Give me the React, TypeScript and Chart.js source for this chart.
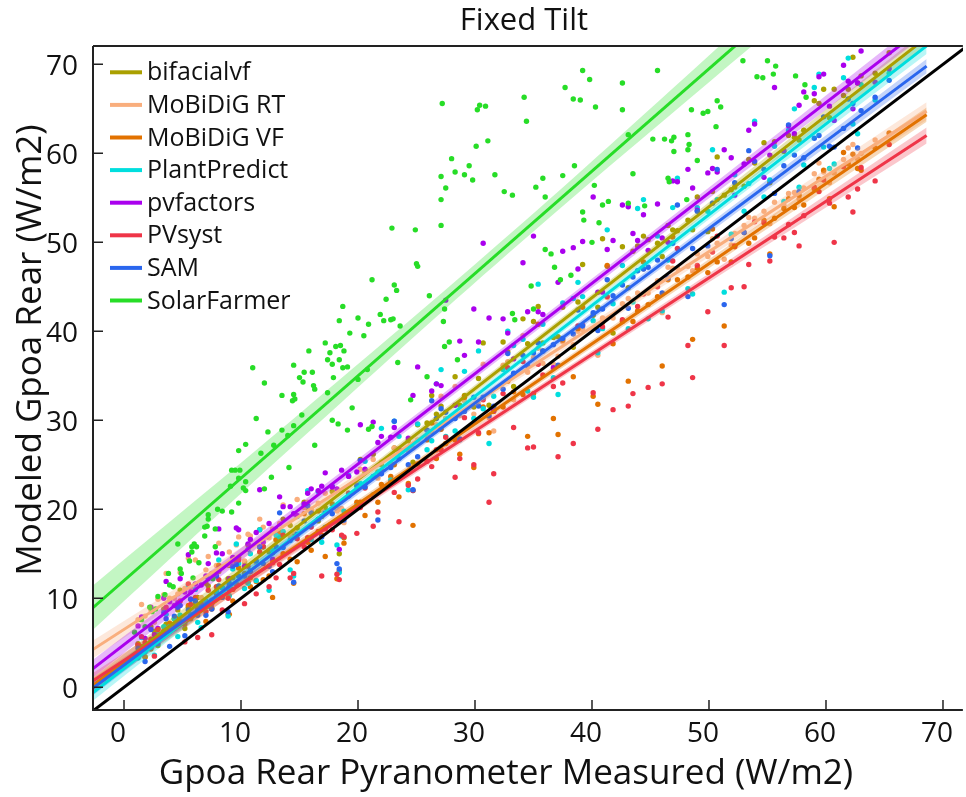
import React, { useEffect, useRef } from 'react';
import { Chart, registerables } from 'chart.js';

Chart.register(...registerables);

const FONT = '"Open Sans", "Noto Sans", "DejaVu Sans", sans-serif';

// Model names, colours and regression fits
const models = ['bifacialvf', 'MoBiDiG RT', 'MoBiDiG VF', 'PlantPredict', 'pvfactors', 'PVsyst', 'SAM', 'SolarFarmer'];
const modelColors = ['#aaa000', '#f9ae7d', '#e27200', '#00dede', '#aa00ee', '#ef3548', '#2a66ee', '#27dd27'];
const fitIntercept = [2.9, 6.5, 2.6, 2.1, 4.8, 3.0, 2.5, 12.0];
const fitSlope = [1.022, 0.849, 0.9, 1.02, 1.015, 0.86, 0.981, 1.15];
const fitRange = [-2.7, 68.6];

// Confidence band half-widths (W/m2) at bandX for each model
const bandX = [-2.7, 15, 33, 50, 68.6];
const bandHalfWidth = [
  [0.9, 0.5, 0.4, 0.5, 0.9],
  [1.0, 0.6, 0.5, 0.6, 1.0],
  [0.8, 0.5, 0.4, 0.5, 0.8],
  [0.9, 0.5, 0.4, 0.5, 0.9],
  [1.0, 0.6, 0.5, 0.6, 1.0],
  [0.9, 0.5, 0.4, 0.5, 0.9],
  [0.8, 0.5, 0.4, 0.5, 0.8],
  [2.5, 1.5, 1.0, 1.5, 2.5],
];

const xTicks = [0, 10, 20, 30, 40, 50, 60, 70];
const yTicks = [0, 10, 20, 30, 40, 50, 60, 70];
const X_MIN = -2.65;
const X_MAX = 71.7;
const Y_MIN = -2.55;
const Y_MAX = 72.06;

// Measured rear irradiance (shared by the first seven models), first period
const measured = [
  1.2, 1.8, 2.3, 2.9, 3.4, 3.9, 4.3, 4.8, 5.2, 5.7,
  6.1, 6.6, 7.0, 7.5, 7.9, 8.4, 8.9, 9.3, 9.8, 10.3,
  10.8, 11.3, 11.9, 12.4, 13.0, 13.6, 14.2, 14.8, 15.4, 16.0,
  16.6, 17.2, 17.8, 18.4, 18.6, 19.2, 19.9, 20.6, 21.3, 22.0,
  22.8, 23.5, 24.3, 25.1, 25.9, 26.7, 27.5, 28.3, 29.1, 29.9,
  30.7, 31.6, 32.4, 33.3, 34.1, 35.0, 35.8, 36.7, 37.5, 38.4,
  39.2, 40.1, 40.9, 41.8, 42.6, 43.5, 43.9, 44.8, 45.6, 46.5,
  47.3, 48.2, 49.0, 49.9, 50.7, 51.3, 52.2, 53.0, 53.9, 54.7,
  55.6, 56.4, 57.3, 58.1, 59.0, 59.8, 60.7, 61.5, 62.3, 63.0,
  64.2, 65.4,
];

// Measured rear irradiance, second period
const measured2 = [
  1.5, 2.6, 3.6, 4.6, 5.5, 6.3, 7.2, 8.1, 9.0, 9.6,
  10.6, 11.6, 12.7, 13.3, 14.5, 15.7, 16.9, 18.2, 18.8, 20.2,
  21.7, 23.1, 24.7, 26.3, 27.1, 28.7, 30.3, 31.2, 32.8, 34.5,
  35.4, 37.1, 38.8, 40.5, 41.3, 43.1, 44.4, 46.0, 46.9, 48.6,
  50.3, 51.9, 53.4, 55.2, 56.8, 57.7, 59.4, 60.3, 61.9, 62.7,
];

const bifacialvfY = [
  4.9, 3.4, 6.8, 4.7, 8.8, 6.5, 7.7, 10.9, 6.6, 9.9,
  9.4, 9.3, 11.7, 8.9, 12.8, 10.2, 12.2, 12.3, 14.6, 14.1,
  12.3, 14.1, 15.8, 15.2, 15.5, 18.9, 18.2, 17.9, 20.8, 19.7,
  18.7, 20.2, 22.0, 15.0, 19.0, 21.6, 22.6, 24.2, 26.2, 25.0,
  25.0, 26.5, 27.7, 29.5, 29.7, 30.7, 30.2, 34.9, 32.8, 31.5,
  38.7, 31.5, 38.8, 33.8, 41.4, 41.1, 38.7, 39.3, 42.7, 38.2,
  47.5, 41.8, 50.4, 39.8, 49.5, 49.0, 49.6, 50.3, 49.9, 51.9,
  51.3, 52.5, 55.1, 51.2, 59.6, 55.3, 56.2, 56.3, 58.9, 61.2,
  61.3, 60.2, 61.8, 62.6, 65.9, 67.2, 67.2, 66.5, 70.8, 68.7,
  69.0, 71.3,
];
const bifacialvfY2 = [
  4.6, 6.3, 7.1, 8.7, 9.0, 10.1, 11.4, 13.0, 13.7, 14.3,
  16.0, 15.7, 15.1, 17.5, 17.1, 20.1, 19.2, 18.7, 16.8, 25.6,
  24.2, 26.9, 25.3, 32.8, 31.6, 31.7, 34.7, 31.7, 37.7, 38.6,
  42.8, 39.4, 43.3, 42.7, 47.3, 44.9, 50.7, 48.4, 51.4, 51.4,
  55.7, 55.9, 59.3, 56.7, 62.0, 61.5, 65.6, 64.0, 67.2, 67.9,
];

const mobidigRtY = [
  7.6, 8.0, 8.7, 9.9, 10.4, 10.0, 10.0, 12.9, 11.1, 11.2,
  14.3, 10.1, 13.2, 12.8, 13.7, 13.5, 13.8, 13.9, 16.9, 14.2,
  17.0, 14.0, 18.0, 16.8, 16.5, 20.5, 17.0, 21.1, 20.2, 20.0,
  20.7, 21.8, 22.6, 20.0, 20.1, 21.8, 22.9, 24.4, 25.6, 25.3,
  25.0, 26.8, 26.6, 27.8, 28.3, 29.5, 30.2, 33.8, 32.2, 30.7,
  36.3, 28.8, 36.2, 32.3, 39.5, 37.1, 36.4, 36.3, 38.8, 38.5,
  40.2, 40.3, 41.5, 41.5, 43.1, 43.4, 44.3, 44.3, 45.7, 47.2,
  47.1, 47.3, 48.7, 48.4, 49.9, 48.1, 51.0, 51.9, 52.7, 53.5,
  54.5, 54.2, 55.6, 56.1, 57.7, 57.9, 57.8, 59.3, 61.0, 60.0,
  61.5, 62.2,
];
const mobidigRtY2 = [
  9.3, 7.3, 12.8, 10.5, 14.5, 9.3, 14.7, 16.2, 15.2, 16.0,
  17.2, 18.9, 17.8, 18.4, 17.5, 20.8, 19.9, 19.8, 18.5, 24.5,
  23.5, 26.9, 26.9, 28.7, 32.7, 30.5, 31.8, 30.3, 36.6, 35.4,
  38.1, 37.2, 40.0, 37.3, 43.8, 43.7, 47.0, 42.1, 47.1, 46.8,
  50.4, 49.7, 52.8, 52.1, 55.5, 54.9, 58.9, 56.7, 60.6, 59.4,
];

const mobidigVfY = [
  4.8, 3.4, 4.3, 5.6, 6.3, 7.2, 7.1, 7.4, 7.1, 7.7,
  10.1, 8.8, 7.4, 8.8, 10.5, 11.2, 8.2, 9.7, 13.4, 12.8,
  11.3, 11.9, 12.1, 12.5, 16.6, 15.0, 14.4, 14.1, 19.5, 15.4,
  19.8, 14.7, 20.6, 13.1, 18.9, 19.6, 20.8, 19.3, 21.6, 22.8,
  23.7, 21.4, 22.9, 25.1, 27.8, 25.7, 27.4, 27.8, 32.6, 24.7,
  31.5, 31.0, 31.5, 33.2, 32.9, 33.0, 37.8, 30.2, 39.0, 34.9,
  42.7, 32.7, 41.0, 38.6, 41.1, 41.1, 42.3, 43.0, 43.9, 45.8,
  45.8, 46.1, 47.1, 46.6, 47.8, 40.6, 49.5, 51.1, 50.5, 52.5,
  52.7, 53.8, 53.9, 54.2, 56.0, 58.1, 54.0, 60.1, 59.9, 58.1,
  60.6, 62.3,
];
const mobidigVfY2 = [
  4.4, 5.3, 6.1, 7.7, 9.2, 8.9, 9.3, 13.7, 8.2, 14.1,
  11.8, 17.7, 10.1, 17.2, 11.7, 16.3, 17.1, 12.2, 16.2, 20.8,
  20.8, 25.0, 18.2, 29.7, 29.0, 26.2, 28.5, 28.6, 34.4, 28.2,
  40.8, 28.4, 40.3, 31.8, 47.4, 34.4, 47.8, 36.1, 50.6, 39.1,
  51.5, 47.8, 49.9, 48.7, 54.9, 55.3, 57.1, 54.9, 58.8, 58.3,
];

const plantPredictY = [
  3.3, 4.0, 4.5, 5.9, 6.8, 6.8, 7.7, 8.1, 7.4, 8.2,
  11.0, 6.7, 9.7, 9.8, 10.8, 11.2, 8.0, 13.3, 13.9, 11.1,
  15.0, 12.0, 15.8, 10.9, 17.1, 17.5, 13.2, 19.2, 20.5, 16.6,
  22.0, 18.0, 22.6, 12.9, 17.0, 23.8, 20.4, 25.4, 21.6, 29.1,
  23.3, 28.2, 22.2, 29.6, 26.7, 34.1, 28.2, 28.8, 35.5, 30.2,
  31.3, 32.7, 35.7, 38.4, 39.1, 32.6, 40.8, 34.8, 43.2, 43.7,
  43.9, 41.2, 40.3, 43.1, 47.4, 43.3, 53.8, 41.4, 50.7, 48.0,
  57.2, 44.8, 53.9, 53.5, 54.8, 44.4, 57.6, 53.5, 63.6, 55.1,
  60.8, 54.6, 65.0, 58.7, 67.4, 60.7, 58.8, 68.5, 63.3, 67.7,
  66.0, 69.0,
];
const plantPredictY2 = [
  5.6, 3.6, 8.2, 5.7, 11.5, 7.3, 9.1, 14.3, 10.3, 16.1,
  11.7, 17.7, 15.4, 16.9, 12.5, 22.1, 16.3, 16.0, 19.8, 22.9,
  21.9, 29.9, 22.1, 27.7, 35.7, 27.8, 37.8, 27.4, 40.0, 33.3,
  45.3, 32.9, 45.5, 37.6, 51.4, 40.3, 54.8, 42.3, 53.9, 44.2,
  60.4, 50.9, 56.6, 57.0, 62.6, 56.2, 68.9, 58.3, 70.7, 62.2,
];

const pvfactorsY = [
  6.9, 5.5, 9.0, 6.6, 10.0, 9.6, 9.2, 12.2, 10.7, 10.7,
  11.6, 11.5, 12.5, 9.4, 15.1, 15.0, 11.1, 14.6, 17.7, 13.6,
  16.6, 17.4, 16.3, 18.4, 17.7, 20.3, 20.3, 19.3, 20.6, 22.3,
  22.1, 24.1, 22.5, 15.5, 24.4, 23.7, 24.2, 24.5, 29.8, 28.2,
  28.1, 26.7, 28.0, 36.0, 28.9, 34.1, 43.5, 31.7, 37.3, 42.5,
  49.9, 31.1, 41.4, 36.9, 47.7, 50.7, 41.9, 35.9, 49.0, 49.4,
  50.1, 55.1, 44.4, 50.2, 54.2, 51.0, 50.2, 49.1, 54.3, 50.0,
  56.8, 58.2, 53.6, 57.8, 57.9, 60.4, 55.3, 58.8, 63.3, 57.3,
  67.4, 60.3, 62.2, 66.9, 66.7, 68.9, 63.7, 69.9, 65.0, 71.5,
  68.0, 69.5,
];
const pvfactorsY2 = [
  7.9, 5.9, 11.9, 9.5, 14.9, 8.6, 13.9, 17.8, 12.2, 17.9,
  16.1, 22.2, 14.4, 21.4, 19.5, 21.8, 22.6, 22.3, 19.0, 29.5,
  27.5, 29.2, 32.8, 33.3, 33.9, 38.9, 38.8, 41.5, 39.8, 42.2,
  42.2, 45.5, 47.0, 44.4, 49.2, 54.0, 53.1, 50.5, 56.9, 56.1,
  58.3, 59.5, 62.6, 59.8, 63.1, 65.4, 68.6, 65.3, 68.1, 67.9,
];

const pvsystY = [
  4.7, 5.0, 5.4, 6.5, 6.2, 6.3, 6.6, 9.7, 5.1, 9.3,
  9.8, 9.4, 8.5, 5.9, 11.3, 8.7, 10.0, 11.0, 14.3, 9.4,
  13.0, 10.5, 15.8, 11.3, 12.3, 17.1, 12.3, 16.7, 15.8, 18.0,
  17.5, 17.8, 17.7, 12.1, 17.1, 21.8, 17.3, 22.4, 18.1, 24.3,
  23.0, 18.6, 22.7, 23.4, 25.4, 26.7, 28.1, 23.6, 30.3, 25.0,
  32.3, 24.0, 33.0, 29.2, 36.6, 27.0, 35.1, 33.8, 34.2, 27.4,
  40.7, 33.1, 40.5, 31.2, 41.3, 33.0, 42.8, 33.7, 45.0, 41.6,
  49.3, 38.4, 47.4, 42.2, 50.7, 38.4, 49.6, 45.0, 52.3, 52.2,
  50.6, 50.5, 51.1, 53.0, 56.2, 57.0, 50.0, 58.5, 53.4, 58.4,
  56.9, 61.0,
];
const pvsystY2 = [
  5.7, 3.5, 9.0, 7.2, 11.6, 5.6, 10.9, 12.1, 11.5, 11.6,
  13.6, 15.2, 14.0, 13.8, 12.8, 16.8, 12.5, 12.7, 16.9, 20.2,
  19.7, 21.9, 22.1, 24.8, 26.7, 25.7, 28.6, 20.8, 35.9, 26.9,
  36.3, 25.9, 40.6, 29.0, 43.9, 31.6, 44.2, 34.1, 47.9, 34.8,
  48.9, 44.9, 47.5, 47.9, 52.0, 49.6, 55.7, 54.4, 55.1, 56.0,
];

const samY = [
  4.4, 2.9, 6.5, 4.9, 8.4, 4.6, 8.0, 9.2, 5.8, 9.9,
  9.7, 9.0, 8.1, 8.8, 12.5, 10.1, 8.5, 13.6, 12.5, 12.5,
  13.1, 14.2, 13.9, 13.6, 15.8, 15.7, 16.5, 17.2, 18.7, 19.6,
  18.9, 19.6, 19.5, 13.3, 18.8, 21.5, 22.7, 22.5, 23.7, 24.0,
  24.7, 25.7, 25.0, 25.9, 28.9, 30.2, 30.9, 30.2, 31.0, 32.6,
  32.6, 31.6, 33.5, 35.3, 37.3, 37.6, 37.8, 38.5, 39.2, 39.7,
  40.6, 42.1, 42.5, 44.0, 45.2, 46.1, 46.8, 47.2, 48.0, 46.0,
  54.2, 43.9, 53.5, 49.6, 58.2, 43.0, 56.7, 51.1, 59.1, 58.2,
  55.5, 58.6, 59.8, 59.5, 61.7, 64.1, 60.7, 62.8, 65.6, 64.8,
  66.3, 68.2,
];
const samY2 = [
  3.8, 5.4, 7.7, 9.0, 8.7, 8.1, 12.2, 11.4, 11.7, 13.8,
  15.5, 15.8, 13.0, 19.6, 11.8, 20.4, 16.9, 13.9, 18.8, 25.5,
  18.8, 29.9, 22.2, 32.2, 31.3, 27.9, 31.6, 30.5, 37.5, 36.1,
  38.7, 36.2, 42.4, 40.1, 45.8, 42.6, 47.0, 44.3, 49.9, 49.3,
  54.4, 50.4, 60.3, 48.5, 63.2, 55.7, 62.0, 60.8, 66.1, 60.6,
];

// SolarFarmer points [measured, modeled]
const solarFarmerPts = [
  [0.9, 6.2], [1.8, 6.8], [1.5, 7.6], [2.2, 9.0], [2.7, 8.8], [2.4, 8.5], [2.9, 10.2], [3.5, 10.4],
  [3.9, 11.5], [4.2, 11.3], [3.8, 12.8], [4.8, 13.3], [4.9, 12.8], [5.9, 12.3], [5.6, 14.2], [6.4, 14.0],
  [4.6, 16.1], [6.0, 16.1], [5.8, 15.8], [6.2, 15.8], [5.8, 15.2], [7.8, 15.8], [6.9, 17.0], [7.1, 18.1],
  [6.9, 18.0], [7.8, 17.8], [7.2, 19.4], [7.2, 18.9], [8.4, 19.8], [8.0, 20.0], [9.2, 19.7], [9.8, 20.7],
  [7.6, 12.2], [9.1, 22.6], [10.4, 22.1], [10.2, 22.4], [9.8, 23.5], [10.4, 23.1], [9.2, 24.4], [9.5, 24.4],
  [9.9, 24.4], [12.6, 23.6], [12.0, 22.3], [14.1, 24.7], [9.8, 26.6], [10.4, 27.3], [11.7, 26.3], [12.8, 27.2],
  [16.3, 27.2], [12.3, 28.7], [13.5, 28.9], [14.0, 28.3], [14.5, 29.4], [15.2, 30.6], [11.3, 30.2], [17.8, 30.0],
  [18.3, 29.6], [19.1, 28.9], [20.9, 29.0], [21.2, 29.3], [19.5, 31.4], [13.5, 32.8], [14.5, 32.9], [14.4, 32.2],
  [14.6, 32.4], [17.4, 33.1], [12.0, 34.2], [15.0, 34.8], [15.3, 34.3], [16.2, 33.9], [16.3, 33.5], [17.9, 34.8],
  [20.0, 34.6], [11.0, 35.9], [14.5, 36.2], [15.4, 35.4], [16.1, 35.4], [17.8, 36.3], [18.7, 35.9], [19.1, 36.0],
  [20.8, 35.7], [17.4, 36.8], [18.4, 36.8], [15.8, 37.8], [17.6, 37.6], [18.1, 38.3], [18.5, 38.4], [18.8, 37.8],
  [17.2, 38.7], [19.3, 39.8], [20.5, 39.5], [18.4, 41.2], [20.9, 40.8], [20.0, 41.5], [18.7, 42.8], [21.9, 41.9],
  [22.2, 41.2], [22.8, 41.3], [22.4, 43.6], [21.2, 45.8], [23.0, 41.4], [23.6, 40.6], [27.4, 42.5], [27.3, 41.1],
  [33.2, 42.0], [33.4, 41.3], [35.0, 42.5], [27.4, 38.3], [27.8, 38.8], [28.5, 36.8], [23.4, 36.5], [25.9, 34.9],
  [24.5, 32.3], [23.1, 45.2], [23.3, 44.6], [26.1, 44.0], [34.8, 45.1], [37.3, 45.8], [38.2, 46.3], [25.0, 47.6],
  [25.1, 47.3], [36.8, 47.2], [36.0, 49.2], [36.5, 48.7], [40.0, 50.0], [22.9, 51.6], [24.9, 51.4], [27.1, 51.9],
  [39.2, 53.4], [39.3, 52.5], [40.6, 52.2], [40.9, 54.2], [41.4, 54.6], [43.1, 54.4], [44.5, 54.1], [27.1, 54.8],
  [27.5, 56.1], [32.5, 55.7], [33.2, 55.3], [35.2, 56.2], [36.0, 55.1], [40.2, 56.4], [28.3, 57.9], [29.1, 57.6],
  [27.1, 57.4], [29.8, 57.0], [31.7, 57.6], [38.5, 58.6], [37.5, 57.5], [35.8, 57.2], [43.5, 57.7], [28.0, 59.4],
  [29.5, 58.6], [30.1, 60.8], [31.1, 61.4], [34.4, 63.6], [43.1, 62.1], [27.2, 65.6], [30.4, 65.4], [30.2, 64.9],
  [30.9, 65.3], [34.2, 66.3], [38.4, 66.1], [39.0, 66.0], [40.3, 65.2], [42.6, 64.9], [37.7, 67.4], [42.6, 67.9],
  [39.8, 68.3], [39.2, 69.3], [45.6, 69.3], [52.9, 70.4], [55.0, 70.4], [55.7, 69.8], [54.1, 68.6], [54.6, 68.5],
  [55.5, 68.9], [57.4, 68.7], [58.2, 67.7], [58.3, 66.3], [50.7, 65.9], [51.0, 65.2], [48.5, 64.9], [49.5, 64.5],
  [49.9, 64.7], [50.6, 63.0], [48.2, 62.1], [46.2, 61.6], [47.0, 61.8], [47.0, 60.2], [48.3, 61.0], [48.2, 60.4],
  [49.0, 59.2], [46.5, 57.2], [46.6, 56.8], [48.1, 54.8], [45.2, 61.6], [46.8, 61.4],
];

const modeledSeries = [bifacialvfY, mobidigRtY, mobidigVfY, plantPredictY, pvfactorsY, pvsystY, samY];
const modeledSeries2 = [bifacialvfY2, mobidigRtY2, mobidigVfY2, plantPredictY2, pvfactorsY2, pvsystY2, samY2];

function rgba(hex: string, a: number) {
  const n = parseInt(hex.slice(1), 16);
  return `rgba(${(n >> 16) & 255},${(n >> 8) & 255},${n & 255},${a})`;
}

function buildDatasets() {
  const sets: any[] = [];
  // scatter points (drawn underneath)
  models.forEach((name, i) => {
    const pts =
      i < modeledSeries.length
        ? [
            ...measured.map((x, k) => ({ x, y: modeledSeries[i][k] })),
            ...measured2.map((x, k) => ({ x, y: modeledSeries2[i][k] })),
          ]
        : solarFarmerPts.map(([x, y]) => ({ x, y }));
    sets.push({
      type: 'scatter',
      label: name,
      data: pts,
      backgroundColor: modelColors[i],
      borderWidth: 0,
      pointRadius: 2.7,
      pointHoverRadius: 2.7,
      order: 200 - i,
    });
  });
  // confidence bands
  models.forEach((name, i) => {
    const upper = bandX.map((x, k) => ({ x, y: fitIntercept[i] + fitSlope[i] * x + bandHalfWidth[i][k] }));
    const lower = bandX.map((x, k) => ({ x, y: fitIntercept[i] + fitSlope[i] * x - bandHalfWidth[i][k] }));
    sets.push({
      type: 'line',
      label: name + ' band',
      data: upper,
      borderWidth: 0,
      pointRadius: 0,
      tension: 0.35,
      fill: '+1',
      backgroundColor: rgba(modelColors[i], 0.28),
      order: 100 - i,
    });
    sets.push({
      type: 'line',
      label: name + ' band low',
      data: lower,
      borderWidth: 0,
      pointRadius: 0,
      tension: 0.35,
      fill: false,
      order: 100 - i,
    });
  });
  // fitted lines
  models.forEach((name, i) => {
    sets.push({
      type: 'line',
      label: name + ' fit',
      data: fitRange.map((x) => ({ x, y: fitIntercept[i] + fitSlope[i] * x })),
      borderColor: modelColors[i],
      borderWidth: 3,
      pointRadius: 0,
      fill: false,
      order: 50 - i,
    });
  });
  // 1:1 reference line
  sets.push({
    type: 'line',
    label: '1:1',
    data: [
      { x: -5, y: -5 },
      { x: 80, y: 80 },
    ],
    borderColor: '#000',
    borderWidth: 3,
    pointRadius: 0,
    fill: false,
    order: 0,
  });
  return sets;
}

const decorPlugin = {
  id: 'decor',
  afterDraw(chart: any) {
    const { ctx, chartArea } = chart;
    const { left, right, top, bottom } = chartArea;
    const xs = chart.scales.x;
    const ys = chart.scales.y;
    ctx.save();
    // frame
    ctx.strokeStyle = '#222';
    ctx.lineWidth = 2;
    ctx.beginPath();
    ctx.moveTo(left, top);
    ctx.lineTo(right, top);
    ctx.moveTo(left, top);
    ctx.lineTo(left, bottom);
    ctx.lineTo(right, bottom);
    ctx.stroke();
    // inward ticks
    ctx.lineWidth = 1.5;
    ctx.beginPath();
    xTicks.forEach((v) => {
      const px = xs.getPixelForValue(v);
      ctx.moveTo(px, bottom);
      ctx.lineTo(px, bottom - 10);
    });
    yTicks.forEach((v) => {
      const py = ys.getPixelForValue(v);
      ctx.moveTo(left, py);
      ctx.lineTo(left + 10, py);
    });
    ctx.stroke();

    // titles
    ctx.fillStyle = '#111';
    ctx.textAlign = 'center';
    ctx.textBaseline = 'middle';
    ctx.font = `31px ${FONT}`;
    ctx.fillText('Fixed Tilt', (left + right) / 2 - 4, 21);
    ctx.font = `35px ${FONT}`;
    ctx.fillText('Gpoa Rear Pyranometer Measured (W/m2)', (left + right) / 2 - 22, 774);
    ctx.save();
    ctx.translate(31, (top + bottom) / 2 - 28);
    ctx.rotate(-Math.PI / 2);
    ctx.fillText('Modeled Gpoa Rear (W/m2)', 0, 0);
    ctx.restore();

    // legend
    ctx.font = `25px ${FONT}`;
    ctx.textAlign = 'left';
    models.forEach((name, i) => {
      const y = top + 26.3 + i * 32.6;
      ctx.strokeStyle = modelColors[i];
      ctx.lineWidth = 4;
      ctx.beginPath();
      ctx.moveTo(left + 17, y);
      ctx.lineTo(left + 49, y);
      ctx.stroke();
      ctx.fillStyle = '#111';
      ctx.fillText(name, left + 54, y + 1);
    });
    ctx.restore();
  },
};

export default function App() {
  const canvasRef = useRef<HTMLCanvasElement | null>(null);

  useEffect(() => {
    const canvas = canvasRef.current;
    if (!canvas) return;
    const chart = new Chart(canvas, {
      type: 'scatter',
      data: { datasets: buildDatasets() },
      options: {
        animation: false,
        responsive: false,
        devicePixelRatio: 1,
        events: [],
        layout: { padding: { top: 46, left: 0, right: 0, bottom: 0 }, autoPadding: false },
        plugins: {
          legend: { display: false },
          tooltip: { enabled: false },
          title: { display: false },
        },
        scales: {
          x: {
            type: 'linear',
            min: X_MIN,
            max: X_MAX,
            afterBuildTicks: (scale: any) => {
              scale.ticks = xTicks.map((value) => ({ value }));
            },
            afterFit: (scale: any) => {
              scale.height = 87;
            },
            grid: { display: false, drawTicks: false },
            border: { display: false },
            ticks: {
              font: { family: FONT, size: 28 },
              color: '#111',
              padding: 7,
              labelOffset: -6,
              maxRotation: 0,
            },
          },
          y: {
            type: 'linear',
            min: Y_MIN,
            max: Y_MAX,
            afterBuildTicks: (scale: any) => {
              scale.ticks = yTicks.map((value) => ({ value }));
            },
            afterFit: (scale: any) => {
              scale.width = 93;
            },
            grid: { display: false, drawTicks: false },
            border: { display: false },
            ticks: {
              font: { family: FONT, size: 28 },
              color: '#111',
              padding: 15,
              labelOffset: 3,
            },
          },
        },
      },
      plugins: [decorPlugin],
    });
    return () => chart.destroy();
  }, []);

  return (
    <div style={{ position: 'fixed', left: 0, top: 0, width: 966, height: 797, background: '#fff' }}>
      <canvas ref={canvasRef} width={966} height={797} style={{ display: 'block', width: 966, height: 797 }} />
    </div>
  );
}
